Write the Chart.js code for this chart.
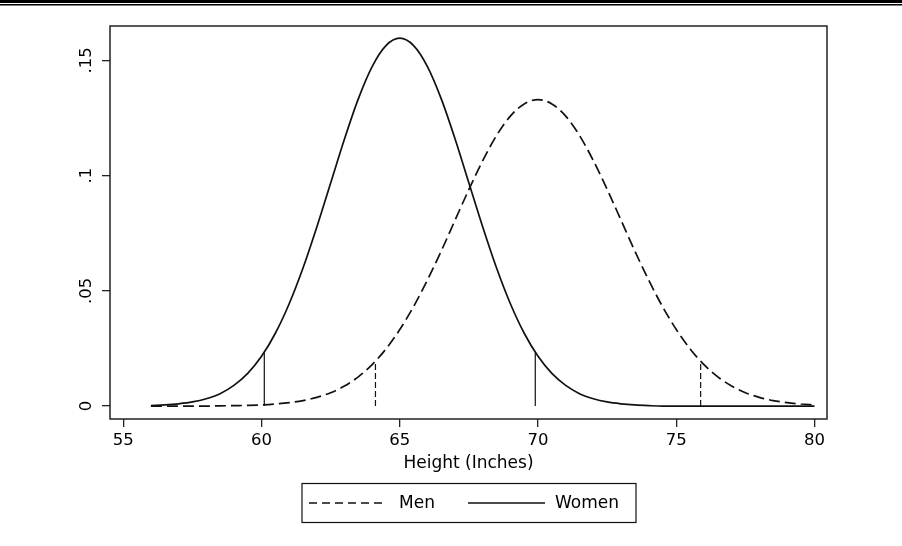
<!DOCTYPE html>
<html>
<head>
<meta charset="utf-8">
<script src="https://cdn.jsdelivr.net/npm/chart.js@4/dist/chart.umd.min.js"></script>
<style>
  html, body { margin: 0; padding: 0; background: #fff; }
  #wrap { width: 902px; height: 546px; position: relative; }
</style>
</head>
<body>
<div id="wrap"><canvas id="c" width="902" height="546"></canvas></div>
<script>
// Height grid (inches)
const heights = [56, 56.5, 57, 57.5, 58, 58.5, 59, 59.5, 60, 60.5, 61, 61.5, 62, 62.5, 63, 63.5,
  64, 64.5, 65, 65.5, 66, 66.5, 67, 67.5, 68, 68.5, 69, 69.5, 70, 70.5, 71, 71.5, 72, 72.5,
  73, 73.5, 74, 74.5, 75, 75.5, 76, 76.5, 77, 77.5, 78, 78.5, 79, 79.5, 80];

// Density of women's heights
const women = [0.0002, 0.0005, 0.0010, 0.0018, 0.0032, 0.0054, 0.0090, 0.0142, 0.0216, 0.0316,
  0.0444, 0.0599, 0.0777, 0.0968, 0.1159, 0.1333, 0.1473, 0.1564, 0.1596, 0.1564, 0.1473,
  0.1333, 0.1159, 0.0968, 0.0777, 0.0599, 0.0444, 0.0316, 0.0216, 0.0142, 0.0090, 0.0054,
  0.0032, 0.0018, 0.0010, 0.0005, 0.0002, 0, 0, 0, 0, 0, 0, 0, 0, 0, 0, 0, 0];

// Density of men's heights
const men = [0, 0, 0, 0, 0, 0.0001, 0.0002, 0.0003, 0.0005, 0.0009, 0.0015, 0.0024, 0.0038,
  0.0058, 0.0087, 0.0127, 0.0180, 0.0248, 0.0332, 0.0432, 0.0547, 0.0673, 0.0807, 0.0940,
  0.1065, 0.1174, 0.1258, 0.1311, 0.1330, 0.1311, 0.1258, 0.1174, 0.1065, 0.0940, 0.0807,
  0.0673, 0.0547, 0.0432, 0.0332, 0.0248, 0.0180, 0.0127, 0.0087, 0.0058, 0.0038, 0.0024,
  0.0015, 0.0009, 0.0005];

// 95% range markers: x position and curve height
const womenMarkX = [60.1, 69.9];
const womenMarkY = [0.0234, 0.0234];
const menMarkX = [64.12, 75.88];
const menMarkY = [0.0195, 0.0195];

const xTicks = [55, 60, 65, 70, 75, 80];
const yTicks = [0, 0.05, 0.1, 0.15];
const yTickLabels = ['0', '.05', '.1', '.15'];
const seriesNames = ['Men', 'Women'];
const xTitle = 'Height (Inches)';

const FONT = 'DejaVu Sans';
const INK = '#111';
const MEN_DASH = [11, 5];

function pts(xs, ys) { return xs.map((x, i) => ({ x: x, y: ys[i] })); }
function markerSets(xs, ys, dash, label) {
  return xs.map((x, i) => ({
    label: label, data: [{ x: x, y: 0 }, { x: x, y: ys[i] }],
    borderColor: INK, borderWidth: 1.2, borderDash: dash, pointRadius: 0, fill: false, isMarker: true
  }));
}

const datasets = [
  { label: seriesNames[0], data: pts(heights, men), borderColor: INK, borderWidth: 1.7,
    borderDash: MEN_DASH, pointRadius: 0, fill: false, cubicInterpolationMode: 'monotone' },
  { label: seriesNames[1], data: pts(heights, women), borderColor: INK, borderWidth: 1.7,
    pointRadius: 0, fill: false, cubicInterpolationMode: 'monotone' },
  ...markerSets(womenMarkX, womenMarkY, [], 'wm'),
  ...markerSets(menMarkX, menMarkY, [6, 3], 'mm')
];

const decor = {
  id: 'decor',
  beforeDraw(chart) {
    const ctx = chart.ctx;
    ctx.save();
    ctx.fillStyle = '#fff';
    ctx.fillRect(0, 0, chart.width, chart.height);
    ctx.fillStyle = '#000';
    ctx.fillRect(0, 0, chart.width, 3);
    ctx.fillRect(0, 4, chart.width, 1.5);
    ctx.restore();
  },
  afterDraw(chart) {
    const ctx = chart.ctx;
    const a = chart.chartArea;
    ctx.save();
    // plot frame
    ctx.strokeStyle = '#222';
    ctx.lineWidth = 1.5;
    ctx.strokeRect(a.left, a.top, a.right - a.left, a.bottom - a.top);
    // legend box
    const lx = 302, ly = 483.5, lw = 334, lh = 39;
    ctx.lineWidth = 1.2;
    ctx.strokeStyle = '#111';
    ctx.strokeRect(lx, ly, lw, lh);
    const cy = ly + lh / 2;
    ctx.lineWidth = 1.3;
    ctx.setLineDash([8, 5]);
    ctx.beginPath(); ctx.moveTo(309, cy); ctx.lineTo(386, cy); ctx.stroke();
    ctx.setLineDash([]);
    ctx.beginPath(); ctx.moveTo(468, cy); ctx.lineTo(545, cy); ctx.stroke();
    ctx.fillStyle = '#000';
    ctx.font = '17px "' + FONT + '"';
    ctx.textBaseline = 'middle';
    ctx.textAlign = 'left';
    ctx.fillText(seriesNames[0], 399, cy + 1);
    ctx.fillText(seriesNames[1], 555, cy + 1);
    ctx.restore();
  }
};

new Chart(document.getElementById('c'), {
  type: 'line',
  data: { datasets: datasets },
  options: {
    responsive: false,
    animation: false,
    layout: { padding: { left: 0, right: 75, top: 26, bottom: 68 } },
    plugins: { legend: { display: false }, tooltip: { enabled: false } },
    scales: {
      x: {
        type: 'linear', min: 54.52, max: 80.45,
        afterBuildTicks: s => { s.ticks = xTicks.map(v => ({ value: v })); },
        afterFit: s => { s.height = 59; },
        grid: { drawOnChartArea: false, drawTicks: true, tickLength: 8, color: '#222', lineWidth: 1.3 },
        border: { display: false },
        ticks: { color: '#000', font: { family: FONT, size: 16.5 }, padding: 4, maxRotation: 0,
                 callback: v => String(v) },
        title: { display: true, text: xTitle, color: '#000', font: { family: FONT, size: 17 },
                 padding: { top: 4, bottom: 4 } }
      },
      y: {
        type: 'linear', min: -0.0056, max: 0.1649,
        afterBuildTicks: s => { s.ticks = yTicks.map(v => ({ value: v })); },
        afterFit: s => { s.width = 110; },
        grid: { drawOnChartArea: false, drawTicks: true, tickLength: 8, color: '#222', lineWidth: 1.3 },
        border: { display: false },
        ticks: { color: '#000', font: { family: FONT, size: 16.5 }, padding: 2,
                 minRotation: 90, maxRotation: 90, crossAlign: 'center',
                 callback: v => { const i = yTicks.findIndex(t => Math.abs(t - v) < 1e-9); return i >= 0 ? yTickLabels[i] : ''; } }
      }
    }
  },
  plugins: [decor]
});
</script>
</body>
</html>
